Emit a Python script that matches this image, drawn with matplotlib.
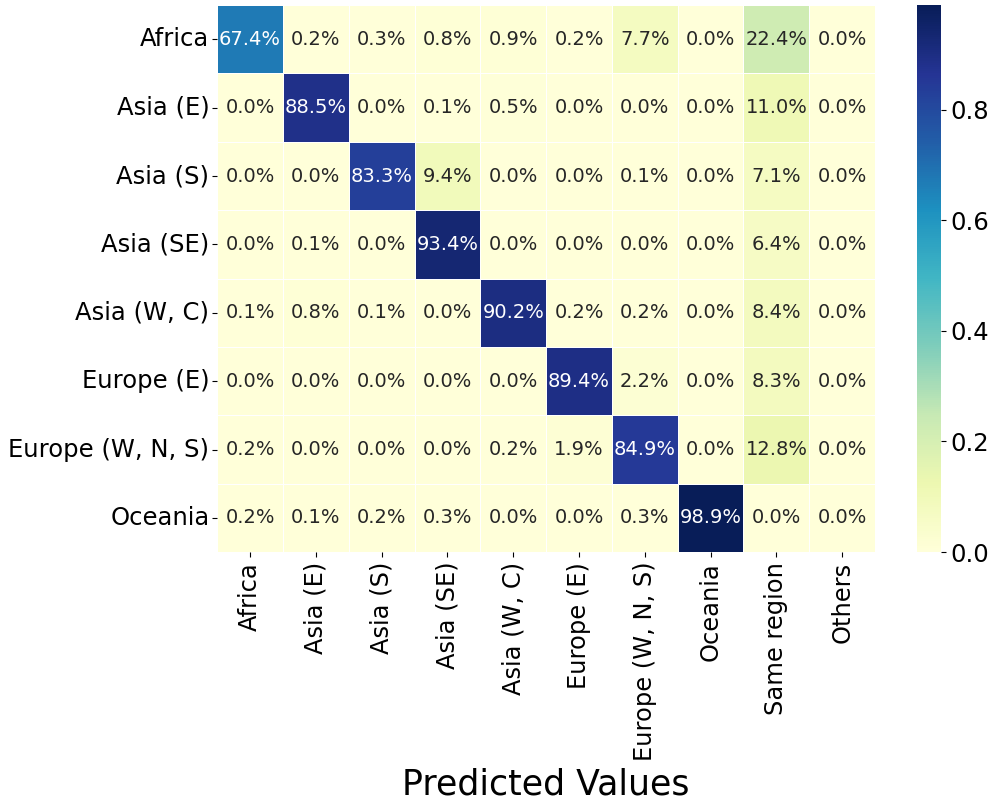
import numpy as np
import matplotlib
matplotlib.use("Agg")
import matplotlib.pyplot as plt
import seaborn as sns

# true regions (rows) and predicted classes (columns)
true_labels = ["Africa", "Asia (E)", "Asia (S)", "Asia (SE)", "Asia (W, C)",
               "Europe (E)", "Europe (W, N, S)", "Oceania"]
pred_labels = ["Africa", "Asia (E)", "Asia (S)", "Asia (SE)", "Asia (W, C)",
               "Europe (E)", "Europe (W, N, S)", "Oceania", "Same region", "Others"]

africa = [67.4, 0.2, 0.3, 0.8, 0.9, 0.2, 7.7, 0.0, 22.4, 0.0]
asia_e = [0.0, 88.5, 0.0, 0.1, 0.5, 0.0, 0.0, 0.0, 11.0, 0.0]
asia_s = [0.0, 0.0, 83.3, 9.4, 0.0, 0.0, 0.1, 0.0, 7.1, 0.0]
asia_se = [0.0, 0.1, 0.0, 93.4, 0.0, 0.0, 0.0, 0.0, 6.4, 0.0]
asia_wc = [0.1, 0.8, 0.1, 0.0, 90.2, 0.2, 0.2, 0.0, 8.4, 0.0]
europe_e = [0.0, 0.0, 0.0, 0.0, 0.0, 89.4, 2.2, 0.0, 8.3, 0.0]
europe_wns = [0.2, 0.0, 0.0, 0.0, 0.2, 1.9, 84.9, 0.0, 12.8, 0.0]
oceania = [0.2, 0.1, 0.2, 0.3, 0.0, 0.0, 0.3, 98.9, 0.0, 0.0]

cm = np.array([africa, asia_e, asia_s, asia_se, asia_wc,
               europe_e, europe_wns, oceania]) / 100.0

fig = plt.figure(figsize=(9.96, 8.06), dpi=100)
ax = fig.add_axes([0.218, 0.315, 0.6606, 0.6787])
cax = fig.add_axes([0.9207, 0.315, 0.0241, 0.6787])

sns.heatmap(cm, annot=True, fmt=".1%", cmap="YlGnBu", linewidths=0.5,
            linecolor="white", xticklabels=pred_labels, yticklabels=true_labels,
            annot_kws={"fontsize": 14}, ax=ax, cbar_ax=cax)

ax.set_xlabel("Predicted Values", fontsize=25)
ax.tick_params(axis="x", labelsize=17.4, rotation=90)
ax.tick_params(axis="y", labelsize=17.5, rotation=0, pad=2)
cax.tick_params(labelsize=17.5)

fig.savefig("out.png", dpi=100)
